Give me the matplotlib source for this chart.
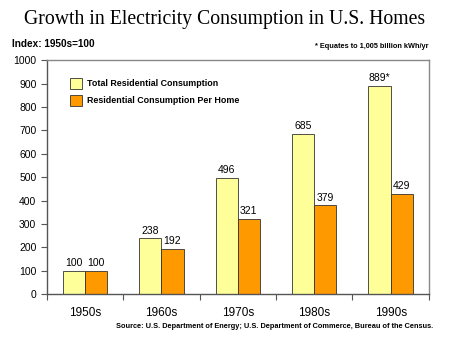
import matplotlib
matplotlib.use("Agg")
import matplotlib.pyplot as plt
import numpy as np
from matplotlib.ticker import FixedLocator

decades = ["1950s", "1960s", "1970s", "1980s", "1990s"]
total = [100, 238, 496, 685, 889]
per_home = [100, 192, 321, 379, 429]
total_labels = ["100", "238", "496", "685", "889*"]
per_home_labels = ["100", "192", "321", "379", "429"]

plt.rcParams['font.family'] = ['Liberation Sans', 'DejaVu Sans']

fig = plt.figure(figsize=(4.5, 3.38), dpi=100)
ax = fig.add_axes([0.104, 0.130, 0.849, 0.692])

x = np.arange(len(decades))
w = 0.29
b1 = ax.bar(x - w / 2, total, w, color="#FFFF99", edgecolor="#333333", linewidth=0.6,
            label="Total Residential Consumption")
b2 = ax.bar(x + w / 2, per_home, w, color="#FF9900", edgecolor="#333333", linewidth=0.6,
            label="Residential Consumption Per Home")

for rect, lab in zip(b1, total_labels):
    ax.text(rect.get_x() + rect.get_width() / 2, rect.get_height() + 12, lab,
            ha="center", va="bottom", fontsize=7.5)
for rect, lab in zip(b2, per_home_labels):
    ax.text(rect.get_x() + rect.get_width() / 2, rect.get_height() + 12, lab,
            ha="center", va="bottom", fontsize=7.5)

ax.set_xlim(-0.5, len(decades) - 0.5)
ax.set_ylim(0, 1000)
ax.set_yticks(range(0, 1001, 100))
ax.tick_params(axis="y", labelsize=7.5, length=4, width=0.8, color="#555555")
ax.set_xticks(x)
ax.set_xticklabels(decades, fontsize=8.5)
ax.tick_params(axis="x", length=0, pad=9)
ax.xaxis.set_minor_locator(FixedLocator(np.arange(-0.5, len(decades), 1.0)))
ax.tick_params(axis="x", which="minor", length=4, width=0.8, color="#555555")
for s in ax.spines.values():
    s.set_color("#888888")
    s.set_linewidth(1.0)
ax.spines["left"].set_color("#555555")
ax.spines["bottom"].set_color("#555555")

ax.legend(loc="upper left", bbox_to_anchor=(70 / 450, 1 - 78 / 338),
          bbox_transform=fig.transFigure, frameon=False, borderpad=0, borderaxespad=0,
          handlelength=1.4, handleheight=1.45, labelspacing=0.75, handletextpad=0.55,
          prop={"weight": "bold", "size": 6.4})

fig.text(0.5, 0.941, "Growth in Electricity Consumption in U.S. Homes",
         family="Liberation Serif", fontsize=14.2, ha="center", va="center")
fig.text(0.027, 0.870, "Index: 1950s=100", fontsize=7.2, fontweight="bold",
         ha="left", va="center")
fig.text(0.953, 0.861, "* Equates to 1,005 billion kWh/yr", fontsize=5.3,
         fontweight="bold", ha="right", va="center")
fig.text(0.962, 0.033, "Source: U.S. Department of Energy; U.S. Department of Commerce, Bureau of the Census.",
         fontsize=5.35, fontweight="bold", ha="right", va="center")

fig.savefig("out.png", dpi=100)
